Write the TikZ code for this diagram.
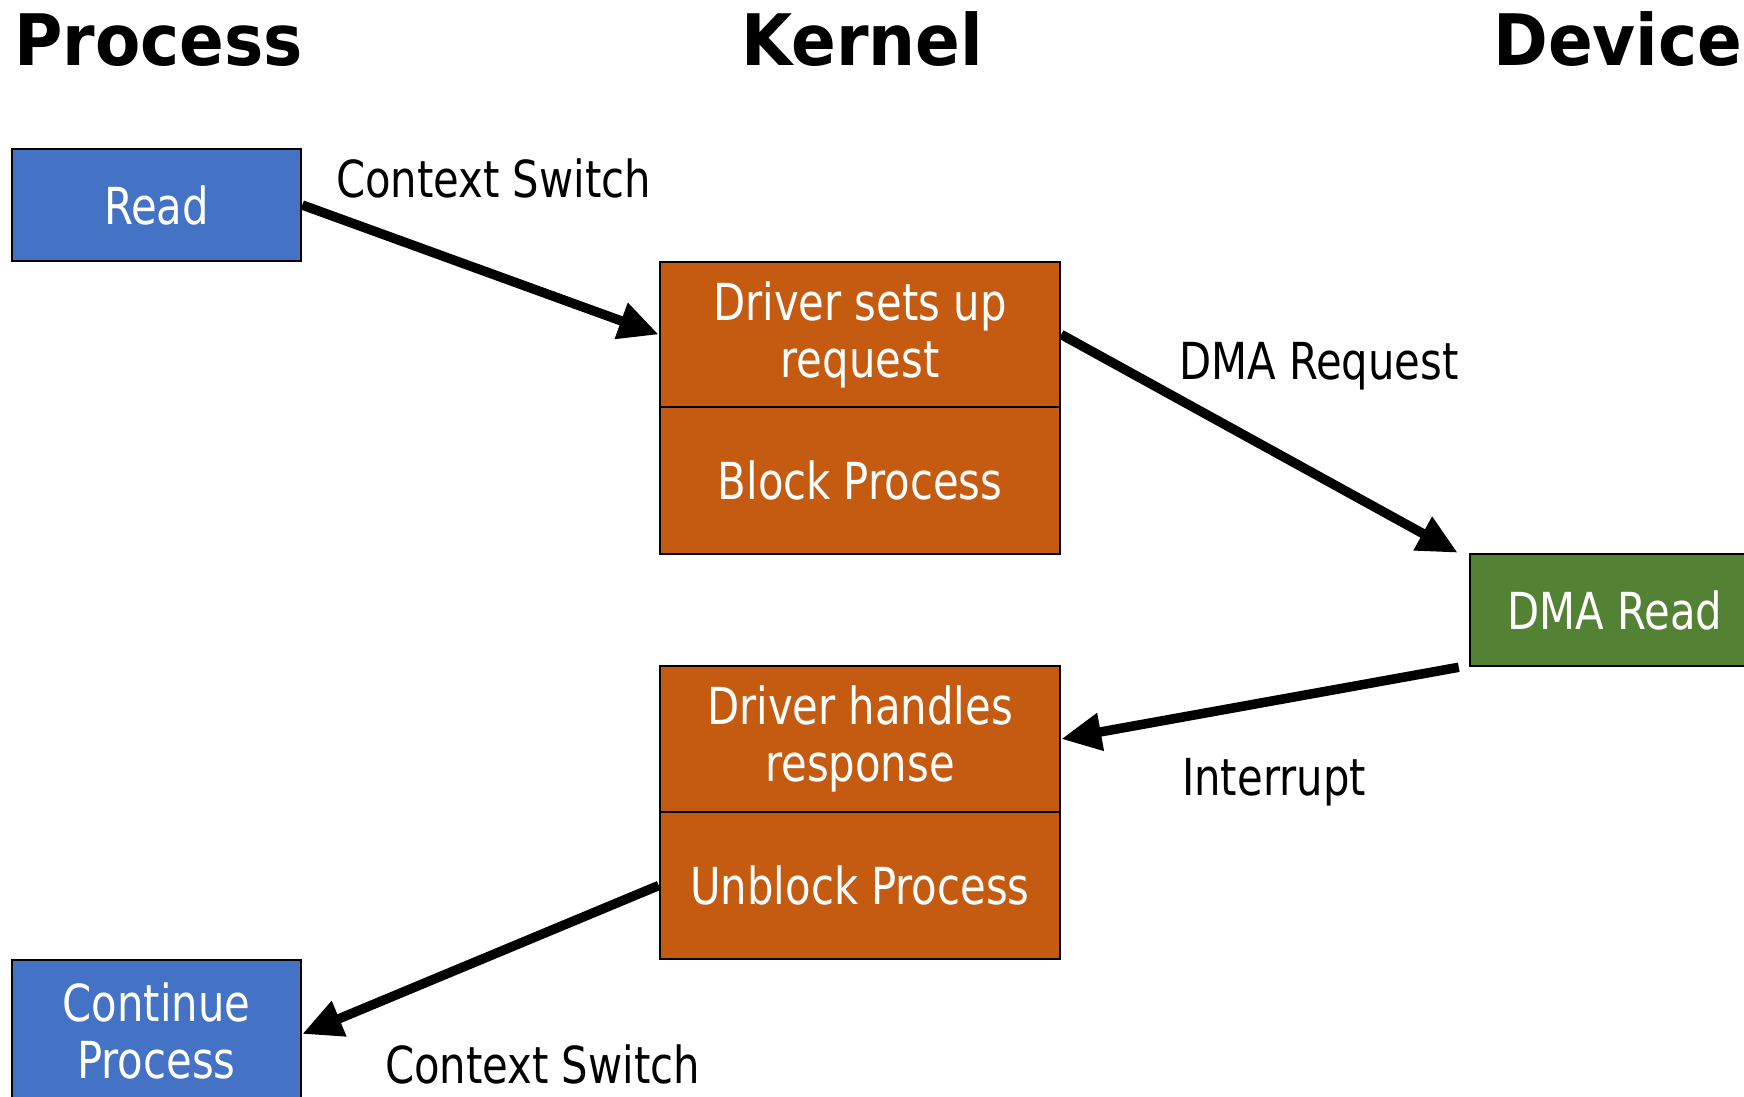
\documentclass[tikz,border=0pt]{standalone}
\usepackage{fontspec}
\setmainfont{DejaVu Sans Condensed}[FakeStretch=0.91]
\newfontfamily\titlefont{DejaVu Sans Bold}[FakeStretch=0.93]
\usetikzlibrary{arrows.meta}
\definecolor{procblue}{HTML}{4472C4}
\definecolor{kernorange}{HTML}{C55A11}
\definecolor{devgreen}{HTML}{548235}
\tikzset{
  bodytext/.style={font=\fontsize{51}{57}\selectfont},
  box/.style={draw=black, line width=2.5pt, inner sep=0pt, text=white, align=center, bodytext},
  procbox/.style={box, fill=procblue, minimum width=289pt},
  kernbox/.style={box, fill=kernorange, minimum width=400pt},
  devbox/.style={box, fill=devgreen, minimum width=290pt, minimum height=112pt},
  heading/.style={font=\titlefont\fontsize{71}{80}\selectfont, inner sep=0pt, anchor=base west},
  lbl/.style={bodytext, inner sep=0pt, anchor=base west},
  flow/.style={line width=9.5pt, -{Triangle[length=40pt,width=36pt]}}
}
\begin{document}
\begin{tikzpicture}[x=1pt,y=-1pt]
\useasboundingbox (0,0) rectangle (1744,1096);
\clip (0,0) rectangle (1744,1096);
\fill[white] (0,0) rectangle (1744,1096);

% headings
\node[heading] (hproc) at (14,65) {Process};
\node[heading] (hkern) at (741,65) {Kernel};
\node[heading] (hdev) at (1493,65) {Device};

% boxes
\node[procbox, minimum height=112pt] (read) at (156.5,205) {Read};
\node[kernbox, minimum height=145pt] (k1a) at (860,334.5) {Driver sets up\\request};
\node[kernbox, minimum height=147pt] (k1b) at (860,480.5) {Block Process};
\node[devbox] (dma) at (1615,610) {DMA Read};
\node[kernbox, minimum height=146pt] (k2a) at (860,739) {Driver handles\\response};
\node[kernbox, minimum height=147pt] (k2b) at (860,885.5) {Unblock Process};
\node[procbox, minimum height=142pt] (cont) at (156.5,1031) {Continue\\Process};

% connectors
\draw[flow] (read.east) -- (k1a.west);
\draw[flow] (k1a.east) -- ([xshift=-11pt]dma.north west);
\draw[flow] ([xshift=-10pt]dma.south west) -- (k2a.east);
\draw[flow] (k2b.west) -- ([yshift=-3pt]cont.east);

% labels
\node[lbl] (l1) at (336,197) {Context Switch};
\node[lbl] (l2) at (1179,379) {DMA Request};
\node[lbl] (l3) at (1182,795) {Interrupt};
\node[lbl] (l4) at (385,1083) {Context Switch};
\end{tikzpicture}
\end{document}
